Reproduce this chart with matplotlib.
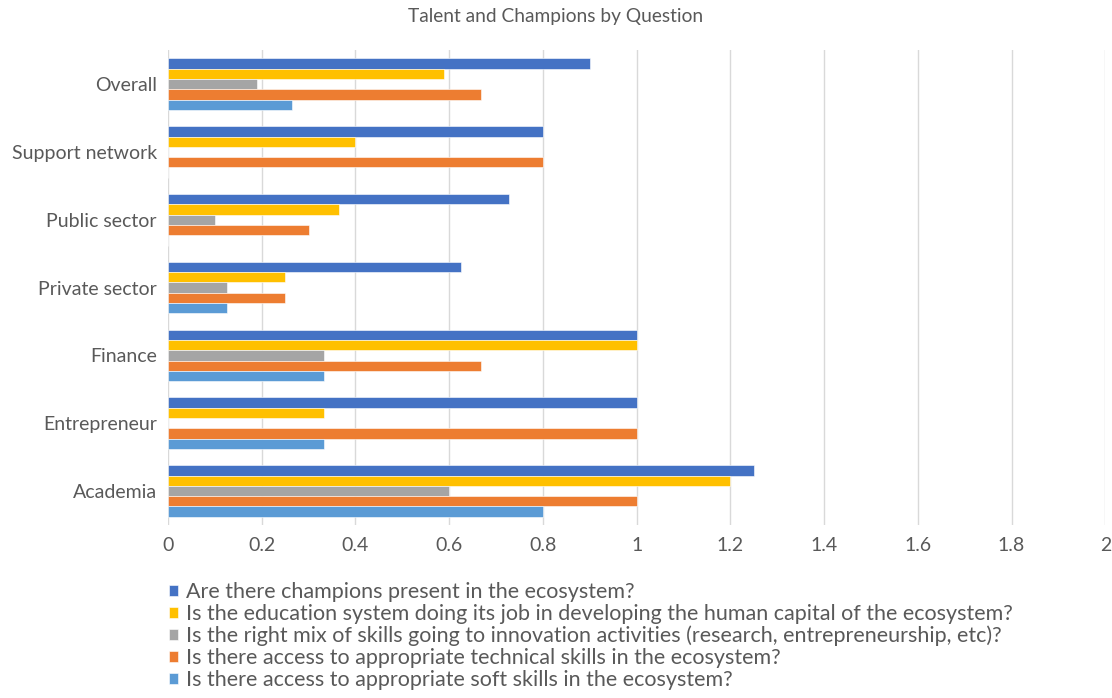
import matplotlib
matplotlib.use('Agg')
import matplotlib.pyplot as plt
import numpy as np

plt.rcParams['font.family'] = ['Lato', 'DejaVu Sans']

# categories, bottom to top
categories = ['Academia', 'Entrepreneur', 'Finance', 'Private sector',
              'Public sector', 'Support network', 'Overall']

# one list per question, same order as categories
champions = [1.25, 1.0, 1.0, 0.625, 0.727, 0.8, 0.9]
education = [1.2, 0.333, 1.0, 0.25, 0.364, 0.4, 0.59]
skills_mix = [0.6, 0.0, 0.333, 0.125, 0.1, 0.0, 0.19]
technical = [1.0, 1.0, 0.667, 0.25, 0.3, 0.8, 0.667]
soft_skills = [0.8, 0.333, 0.333, 0.125, 0.0, 0.0, 0.264]

labels = [
    'Are there champions present in the ecosystem?',
    'Is the education system doing its job in developing the human capital of the ecosystem?',
    'Is the right mix of skills going to innovation activities (research, entrepreneurship, etc)?',
    'Is there access to appropriate technical skills in the ecosystem?',
    'Is there access to appropriate soft skills in the ecosystem?',
]
series = [champions, education, skills_mix, technical, soft_skills]
colors = ['#4472C4', '#FFC000', '#A5A5A5', '#ED7D31', '#5B9BD5']

txt = '#595959'
fig = plt.figure(figsize=(11.12, 6.98), dpi=100)
ax = fig.add_axes([0.151, 0.248, 0.843, 0.68])

y = np.arange(len(categories))
h = 0.152
for i, (vals, c, lab) in enumerate(zip(series, colors, labels)):
    # first series sits on top of each group
    off = (2 - i) * h
    ax.barh(y + off, vals, height=h, color=c, label=lab,
            edgecolor='white', linewidth=0.4, zorder=3)

ax.set_xlim(0, 2)
ax.set_ylim(-0.5, len(categories) - 0.5)
ax.set_xticks(np.arange(0, 2.01, 0.2))
ax.set_xticklabels(['0', '0.2', '0.4', '0.6', '0.8', '1', '1.2', '1.4', '1.6', '1.8', '2'])
ax.set_yticks(y)
ax.set_yticklabels(categories)
ax.tick_params(axis='both', length=0, labelsize=14, colors=txt)
ax.tick_params(axis='x', pad=9)
ax.tick_params(axis='y', pad=8)
ax.grid(axis='x', color='#D9D9D9', linewidth=1, zorder=0)
for s in ax.spines.values():
    s.set_visible(False)

fig.suptitle('Talent and Champions by Question', y=0.988, fontsize=13.8,
             fontweight='normal', color=txt)

fig.legend(loc='upper left', bbox_to_anchor=(0.144, 0.178), frameon=False,
           fontsize=15.5, labelcolor=txt, handlelength=0.42, handleheight=0.42,
           handletextpad=0.4, labelspacing=0.08, borderaxespad=0)

plt.savefig('out.png', dpi=100)
